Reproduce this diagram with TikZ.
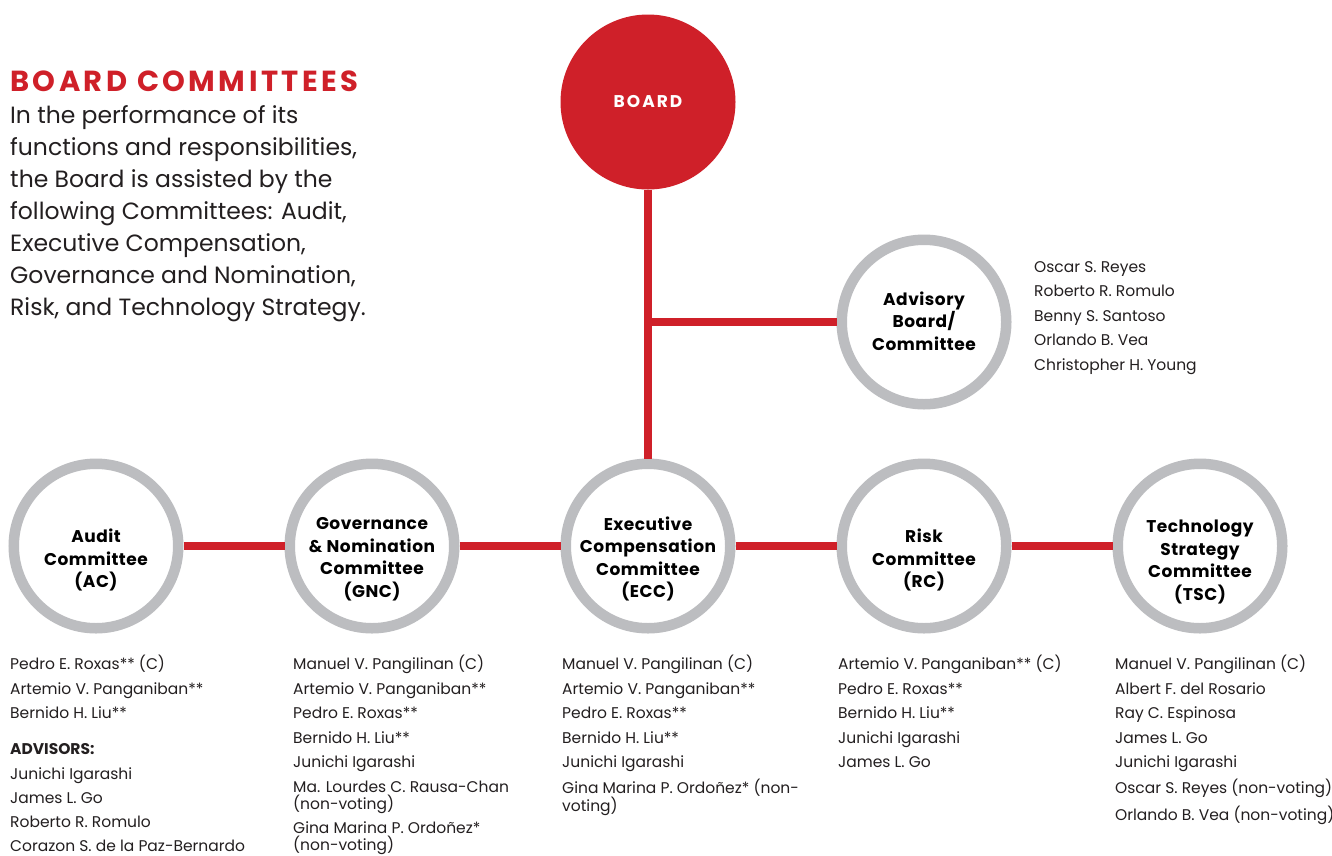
\documentclass[tikz,border=0pt]{standalone}
\usepackage{fontspec}
\setmainfont{Poppins}
\definecolor{bred}{HTML}{CF2029}
\definecolor{ringgray}{HTML}{BCBDC0}
\definecolor{ink}{HTML}{231F20}
\newcommand{\fs}[2]{\fontsize{#1}{#2}\selectfont}
\newcommand{\topstrut}{\rule{0pt}{13pt}}
\begin{document}
\begin{tikzpicture}[x=1pt,y=-1pt,
  ringnode/.style={circle, draw=ringgray, line width=10.5pt, fill=white,
    minimum size=164.5pt, inner sep=0pt},
  boardnode/.style={circle, fill=bred, minimum size=175pt, inner sep=0pt,
    text=white, font=\fs{17}{20}\bfseries\addfontfeatures{LetterSpace=12}},
  circlabel/.style={align=center, inner sep=0pt, text=black,
    font=\fs{17}{22.5}\bfseries\addfontfeatures{LetterSpace=3}},
  namelist/.style={align=left, anchor=north west, inner sep=0pt, text=ink,
    font=\fs{15.5}{18}},
  connector/.style={draw=bred, line width=7.5pt},
]
\useasboundingbox (0,0) rectangle (1332,855);
\fill[white] (0,0) rectangle (1332,855);

% intro text
\node[anchor=base west, inner sep=0pt, text=bred, font=\fs{29}{30}\bfseries\addfontfeatures{LetterSpace=12}] (title) at (10,91) {BOARD COMMITTEES};
\node[anchor=north west, align=left, inner sep=0pt, text=ink, font=\fs{23.5}{32}] (intro) at (10,105)
 {In the performance of its\\functions and responsibilities,\\the Board is assisted by the\\following Committees: Audit,\\Executive Compensation,\\Governance and Nomination,\\Risk, and Technology Strategy.};

% circles
\node[boardnode] (board) at (648,102) {BOARD};
\node[ringnode] (adv) at (924,322) {};
\node[ringnode] (ac)  at (96,546) {};
\node[ringnode] (gnc) at (372,546) {};
\node[ringnode] (ecc) at (648,546) {};
\node[ringnode] (rc)  at (924,546) {};
\node[ringnode] (tsc) at (1200,546) {};

% connectors
\draw[connector] (board.south) -- (ecc.north);
\coordinate (branch) at (board.south |- adv.west);
\draw[connector] (branch) -- (adv.west);
\draw[connector] (ac.east) -- (gnc.west);
\draw[connector] (gnc.east) -- (ecc.west);
\draw[connector] (ecc.east) -- (rc.west);
\draw[connector] (rc.east) -- (tsc.west);

% circle labels
\node[circlabel] (advlab) at (924,321) {Advisory\\Board/\\Committee};
\node[circlabel] (aclab)  at (96,560) {Audit\\Committee\\(AC)};
\node[circlabel] (gnclab) at (372,559) {Governance\\\& Nomination\\Committee\\(GNC)};
\node[circlabel] (ecclab) at (648,559) {Executive\\Compensation\\Committee\\(ECC)};
\node[circlabel] (rclab)  at (924,560) {Risk\\Committee\\(RC)};
\node[circlabel] (tsclab) at (1200,562) {Technology\\Strategy\\Committee\\(TSC)};

% name lists
\node[namelist] (advnames) at (1034,259) {\topstrut Oscar S. Reyes\\[6.5pt]Roberto R. Romulo\\[6.5pt]Benny S. Santoso\\[6.5pt]Orlando B. Vea\\[6.5pt]Christopher H. Young};

\node[namelist] (acnames) at (10,655) {\topstrut Pedro E. Roxas** (C)\\[6.5pt]Artemio V. Panganiban**\\[6.5pt]Bernido H. Liu**\\[18pt]{\bfseries ADVISORS:}\\[7pt]Junichi Igarashi\\[6pt]James L. Go\\[6pt]Roberto R. Romulo\\[6pt]Corazon S. de la Paz-Bernardo};

\node[namelist] (gncnames) at (293,655) {\topstrut Manuel V. Pangilinan (C)\\[6.5pt]Artemio V. Panganiban**\\[6.5pt]Pedro E. Roxas**\\[6.5pt]Bernido H. Liu**\\[6.5pt]Junichi Igarashi\\[6.5pt]Ma. Lourdes C. Rausa-Chan\\[-1pt](non-voting)\\[6pt]Gina Marina P. Ordoñez*\\[-1pt](non-voting)};

\node[namelist] (eccnames) at (562,655) {\topstrut Manuel V. Pangilinan (C)\\[6.5pt]Artemio V. Panganiban**\\[6.5pt]Pedro E. Roxas**\\[6.5pt]Bernido H. Liu**\\[6.5pt]Junichi Igarashi\\[6.5pt]Gina Marina P. Ordoñez* (non-\\voting)};

\node[namelist] (rcnames) at (838,655) {\topstrut Artemio V. Panganiban** (C)\\[6.5pt]Pedro E. Roxas**\\[6.5pt]Bernido H. Liu**\\[6.5pt]Junichi Igarashi\\[6.5pt]James L. Go};

\node[namelist] (tscnames) at (1115,655) {\topstrut Manuel V. Pangilinan (C)\\[6.5pt]Albert F. del Rosario\\[6.5pt]Ray C. Espinosa\\[6.5pt]James L. Go\\[6.5pt]Junichi Igarashi\\[6.5pt]Oscar S. Reyes (non-voting)\\[6.5pt]Orlando B. Vea (non-voting)};
\end{tikzpicture}
\end{document}
